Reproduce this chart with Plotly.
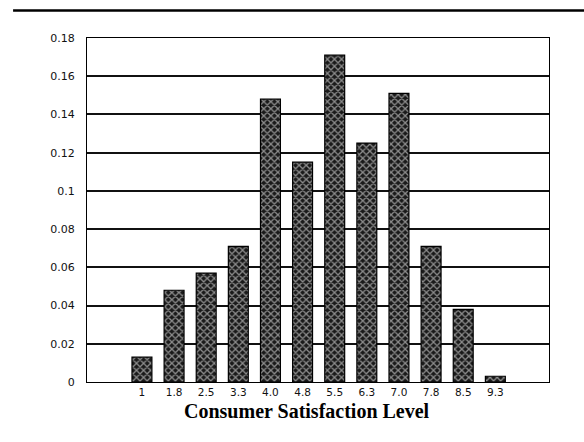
import plotly.graph_objects as go

# Consumer satisfaction distribution
levels = ["1", "1.8", "2.5", "3.3", "4.0", "4.8", "5.5", "6.3", "7.0", "7.8", "8.5", "9.3"]
shares = [0.013, 0.048, 0.057, 0.071, 0.148, 0.115, 0.171, 0.125, 0.151, 0.071, 0.038, 0.003]
y_ticks = [0, 0.02, 0.04, 0.06, 0.08, 0.1, 0.12, 0.14, 0.16, 0.18]
y_tick_text = ["0", "0.02", "0.04", "0.06", "0.08", "0.1", "0.12", "0.14", "0.16", "0.18"]
x_title = "Consumer Satisfaction Level"

fig = go.Figure(
    go.Bar(
        x=levels,
        y=shares,
        width=0.62,
        marker=dict(
            color="#1a1a1a",
            line=dict(color="black", width=1.2),
            pattern=dict(shape="x", fgcolor="white", bgcolor="#1a1a1a",
                         size=5, solidity=0.45),
        ),
    )
)

fig.update_layout(
    width=584,
    height=442,
    margin=dict(l=87, r=35, t=38, b=60),
    paper_bgcolor="white",
    plot_bgcolor="white",
    showlegend=False,
    bargap=0.38,
    xaxis=dict(
        type="category",
        range=[-1.71, 12.67],
        showline=True,
        linecolor="black",
        linewidth=1,
        mirror=True,
        showgrid=False,
        ticks="",
        tickfont=dict(family="DejaVu Sans", size=10.5, color="#111"),
    ),
    yaxis=dict(
        range=[0, 0.18],
        tickvals=y_ticks,
        ticktext=y_tick_text,
        showline=True,
        linecolor="black",
        linewidth=1,
        mirror=True,
        showgrid=True,
        gridcolor="#111111",
        gridwidth=1.6,
        zeroline=False,
        ticks="",
        ticklabelstandoff=9,
        tickfont=dict(family="DejaVu Sans", size=11, color="#111"),
    ),
    annotations=[
        dict(
            text=x_title,
            xref="paper", yref="paper",
            x=0.476, y=-0.047,
            xanchor="center", yanchor="top",
            showarrow=False,
            font=dict(family="Liberation Serif", size=20, color="black", weight="bold"),
        )
    ],
    shapes=[
        dict(
            type="line", xref="paper", yref="paper",
            x0=-0.16, x1=1.08, y0=1.08, y1=1.08,
            line=dict(color="black", width=2.5),
        )
    ],
)

fig.write_html("out.html")
